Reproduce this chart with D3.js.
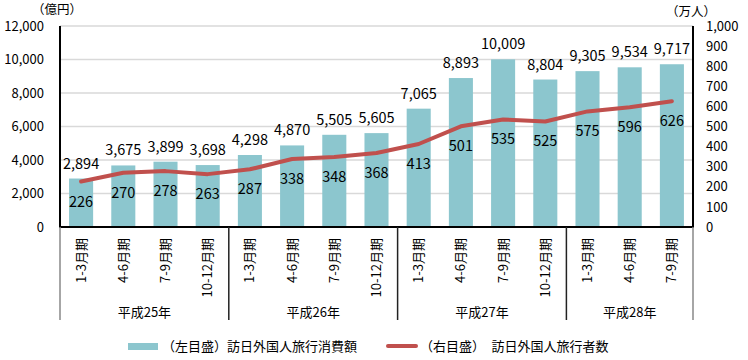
<!DOCTYPE html>
<html><head><meta charset="utf-8">
<script src="https://cdn.jsdelivr.net/npm/d3@7"></script>
<style>body{margin:0;background:#fff;} svg{display:block;} text{font-family:"Noto Sans CJK JP","Noto Sans",sans-serif;fill:#000;}</style>
</head><body>
<svg id="c" width="748" height="360"></svg>
<script>
const quarters = ["1-3月期","4-6月期","7-9月期","10-12月期","1-3月期","4-6月期","7-9月期","10-12月期","1-3月期","4-6月期","7-9月期","10-12月期","1-3月期","4-6月期","7-9月期"];
const years = ["平成25年","平成26年","平成27年","平成28年"];
const yearCounts = [4,4,4,3];
const spending = [2894,3675,3899,3698,4298,4870,5505,5605,7065,8893,10009,8804,9305,9534,9717];
const visitors = [226,270,278,263,287,338,348,368,413,501,535,525,575,596,626];
const leftTicks = [0,2000,4000,6000,8000,10000,12000];
const rightTicks = [0,100,200,300,400,500,600,700,800,900,1000];
const legendLabels = ["（左目盛）訪日外国人旅行消費額","（右目盛）　訪日外国人旅行者数"];

const svg = d3.select("#c");
const L = 60, R = 693, T = 26, B = 227;
const idx = quarters.map((d,i)=>i);
const x = d3.scaleBand().domain(idx).range([L,R]).paddingInner(0.43).paddingOuter(0.215);
const yL = d3.scaleLinear().domain([0,12000]).range([B,T]);
const yR = d3.scaleLinear().domain([0,1000]).range([B,T]);
const fmt = d3.format(",");
const barColor = "#8cc6ce", lineColor = "#c0504d";

// gridlines
svg.append("g").selectAll("line").data(leftTicks.slice(1)).join("line")
  .attr("x1",L).attr("x2",R).attr("y1",d=>yL(d)).attr("y2",d=>yL(d))
  .attr("stroke","#d9d9d9").attr("stroke-width",1.5);

// left axis
const gl = svg.append("g").attr("transform",`translate(${L},0)`)
  .call(d3.axisLeft(yL).tickValues(leftTicks).tickFormat(fmt).tickSize(0).tickPadding(16));
gl.select(".domain").remove();
gl.selectAll("text").style("font-size","13px").style("font-family","'Noto Sans CJK JP',sans-serif");

// right axis
const gr = svg.append("g").attr("transform",`translate(${R},0)`)
  .call(d3.axisRight(yR).tickValues(rightTicks).tickFormat(fmt).tickSize(0).tickPadding(13));
gr.select(".domain").remove();
gr.selectAll("text").style("font-size","13px").style("font-family","'Noto Sans CJK JP',sans-serif");

// bars
svg.append("g").selectAll("rect").data(spending).join("rect")
  .attr("x",(d,i)=>x(i)).attr("width",x.bandwidth())
  .attr("y",d=>yL(d)).attr("height",d=>B-yL(d))
  .attr("fill",barColor);

// bar labels
svg.append("g").selectAll("text").data(spending).join("text")
  .attr("x",(d,i)=>x(i)+x.bandwidth()/2).attr("y",d=>yL(d)-10)
  .attr("text-anchor","middle").style("font-size","14.5px").text(d=>fmt(d));

// line
const line = d3.line().x((d,i)=>x(i)+x.bandwidth()/2).y(d=>yR(d));
svg.append("path").datum(visitors).attr("d",line).attr("fill","none")
  .attr("stroke",lineColor).attr("stroke-width",4).attr("stroke-linejoin","round").attr("stroke-linecap","round");

// line labels
svg.append("g").selectAll("text").data(visitors).join("text")
  .attr("x",(d,i)=>x(i)+x.bandwidth()/2).attr("y",d=>yR(d)+25)
  .attr("text-anchor","middle").style("font-size","14.5px").text(d=>d);

// axis lines
svg.append("line").attr("x1",L).attr("x2",L).attr("y1",T).attr("y2",B).attr("stroke","#000").attr("stroke-width",2);
svg.append("line").attr("x1",R).attr("x2",R).attr("y1",T).attr("y2",B).attr("stroke","#000").attr("stroke-width",2);
svg.append("line").attr("x1",L-1).attr("x2",R+1).attr("y1",B).attr("y2",B).attr("stroke","#000").attr("stroke-width",2);

// quarter labels
svg.append("g").selectAll("text").data(quarters).join("text")
  .attr("transform",(d,i)=>`translate(${x(i)+x.bandwidth()/2+4.5},238) rotate(-90)`)
  .attr("text-anchor","end").style("font-size","13px").text(d=>d);

// group separators and year labels
const step = x.step();
let start = 0;
const bounds = [];
yearCounts.forEach(c=>{ bounds.push([start,start+c]); start+=c; });
const sepX = [L, ...bounds.map(b=> b[1]===quarters.length ? R : L + b[1]*step)];
svg.append("g").selectAll("line").data(sepX).join("line")
  .attr("x1",d=>d).attr("x2",d=>d).attr("y1",B).attr("y2",320)
  .attr("stroke",(d,i)=> (i===0||i===sepX.length-1) ? "#888" : "#222").attr("stroke-width",1.5);
svg.append("g").selectAll("text").data(years).join("text")
  .attr("x",(d,i)=>(sepX[i]+sepX[i+1])/2).attr("y",317)
  .attr("text-anchor","middle").style("font-size","13px").text(d=>d);

// unit labels
svg.append("text").attr("x",57).attr("y",14).attr("text-anchor","middle").style("font-size","12.5px").text("（億円）");
svg.append("text").attr("x",691).attr("y",16).attr("text-anchor","middle").style("font-size","12.5px").text("（万人）");

// legend
svg.append("rect").attr("x",128).attr("y",343).attr("width",30).attr("height",7).attr("fill",barColor);
svg.append("text").attr("x",162).attr("y",351).style("font-size","13px").text(legendLabels[0]);
svg.append("line").attr("x1",388).attr("x2",416).attr("y1",346).attr("y2",346).attr("stroke",lineColor).attr("stroke-width",4).attr("stroke-linecap","round");
svg.append("text").attr("x",420).attr("y",351).style("font-size","13px").text(legendLabels[1]);
</script>
</body></html>
